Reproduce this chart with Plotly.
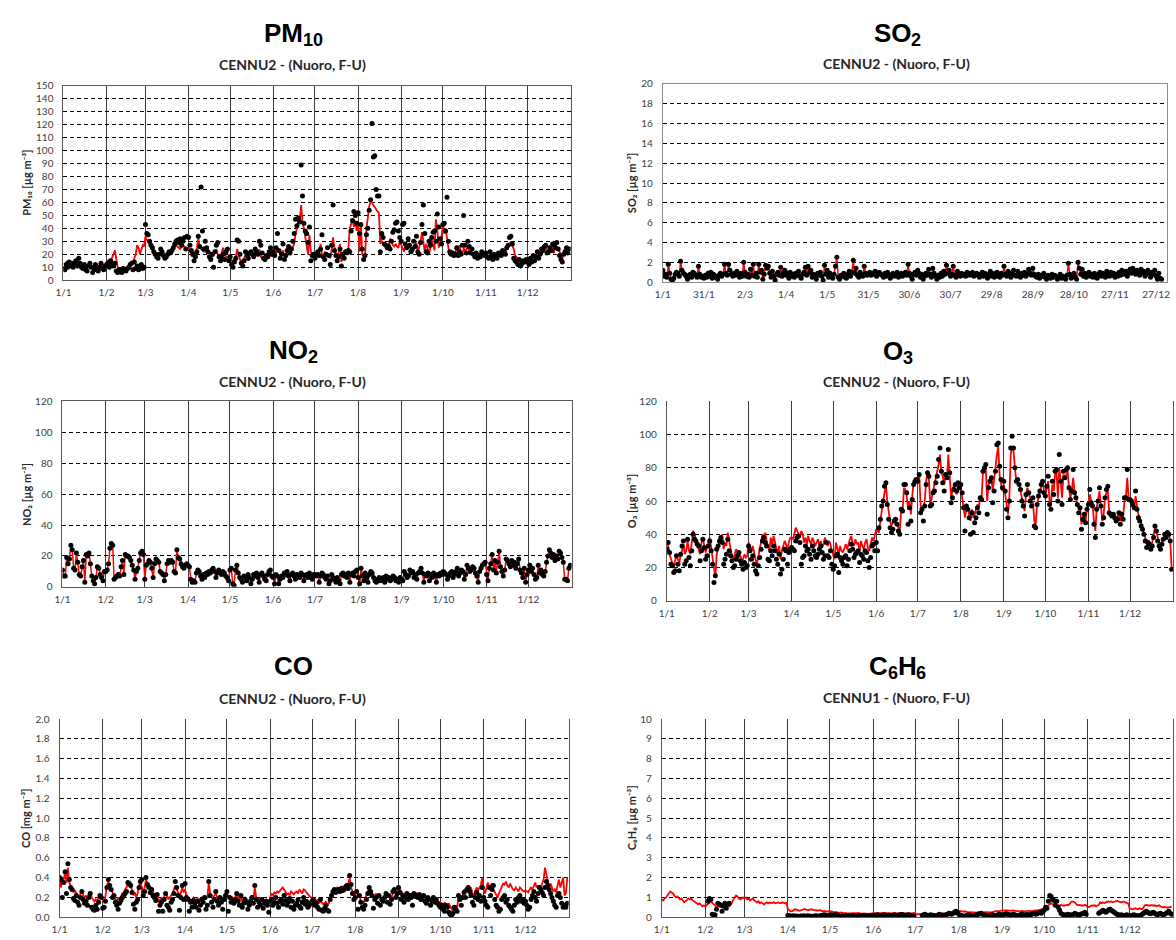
import plotly.graph_objects as go

W, H = 1176, 940

# ---------------------------------------------------------------- axes
days = list(range(365))
month_ticks = [0, 31, 59, 90, 120, 151, 181, 212, 243, 273, 304, 334]
month_labels = ["1/1", "1/2", "1/3", "1/4", "1/5", "1/6", "1/7", "1/8", "1/9", "1/10", "1/11", "1/12"]
so2_ticks = [0, 30, 60, 90, 120, 150, 180, 210, 240, 270, 300, 330, 360]
so2_labels = ["1/1", "31/1", "2/3", "1/4", "1/5", "31/5", "30/6", "30/7", "29/8", "28/9", "28/10", "27/11", "27/12"]

# ---------------------------------------------------------------- PM10 (µg/m3)
pm10_daily = [
    9, 8, 12, 10, 14, 11, 13, 10, 12, 15, 11, 17, 13, 10, 9, 12, 8, 7, 11, 13, 10, 6, 9, 12, 8, 7, 10, 13, 9, 8, 11,
    12, 13, 10, 15, 12, 11, 13, 7, 6, 8, 7, 6, 9, 8, 7, 9, 10, 12, 13, 8, 14, 9, 11, 8, 10, 12, 9, 10,
    43, 36, 35, 30, 27, 25, 22, 20, 18, 17, 20, 24, 22, 19, 17, 18, 20, 22, 21, 23, 25, 28, 30, 31, 29, 32, 27, 30, 33, 24, 34,
    33, 27, 23, 20, 15, 18, 22, 34, 26, 72, 38, 24, 30, 25, 22, 18, 16, 20, 10, 22, 27, 29, 18, 15, 17, 20, 16, 22, 24, 15,
    18, 12, 10, 14, 17, 31, 30, 20, 13, 11, 15, 22, 19, 17, 21, 22, 20, 18, 24, 22, 20, 30, 27, 21, 17, 16, 19, 18, 22, 25, 20,
    22, 19, 25, 36, 23, 17, 20, 28, 16, 19, 23, 26, 21, 24, 30, 36, 47, 42, 48, 45, 89, 65, 44, 38, 36, 29, 41, 15, 19, 20,
    17, 20, 22, 19, 24, 35, 18, 16, 20, 25, 19, 12, 27, 58, 23, 19, 15, 18, 24, 11, 20, 17, 22, 21, 23, 22, 38, 46, 53, 50, 44,
    52, 36, 43, 24, 16, 19, 35, 40, 54, 62, 121, 95, 96, 70, 65, 65, 22, 36, 33, 28, 27, 25, 26, 24, 30, 37, 39, 44, 45, 38, 33,
    30, 43, 44, 28, 25, 32, 27, 22, 24, 30, 26, 34, 22, 20, 29, 43, 58, 36, 22, 21, 30, 27, 33, 37, 38, 30, 51, 41, 32, 28,
    43, 44, 38, 64, 30, 22, 20, 21, 19, 20, 25, 19, 22, 20, 27, 50, 27, 21, 30, 26, 21, 24, 20, 18, 21, 17, 19, 18, 22, 20, 19,
    21, 18, 17, 22, 19, 16, 20, 18, 17, 21, 20, 19, 23, 22, 20, 25, 27, 33, 34, 28, 17, 15, 14, 12, 16, 11, 13, 15, 14, 16,
    15, 12, 17, 14, 19, 15, 18, 22, 17, 20, 24, 23, 26, 27, 21, 22, 25, 23, 28, 27, 25, 29, 24, 19, 16, 14, 20, 22, 25, 21, 24,
]
pm10_line = [
    13, 12, 14, 13, 15, 12, 14, 13, 16, 14, 13, 15, 12, 11, 10, 12, 11, 10, 12, 11, 10, 9, 11, 12, 10, 11, 12, 11, 10, 12, 11,
    14, 15, 16, 15, 17, 20, 23, 15, 10, 9, 8, 9, 8, 9, 8, 10, 12, 13, 14, 13, 17, 20, 27, 25, 20, 24, 27, 26,
    34, 31, 30, 27, 25, 22, 21, 20, 21, 20, 19, 20, 21, 19, 18, 19, 20, 21, 22, 23, 24, 26, 27, 26, 25, 24, 26, 27, 26, 25, 24,
    25, 22, 20, 18, 20, 22, 24, 33, 25, 24, 23, 22, 24, 21, 23, 22, 20, 18, 19, 21, 24, 20, 19, 18, 22, 25, 20, 18, 17, 19,
    17, 15, 14, 16, 18, 24, 20, 16, 15, 14, 17, 19, 18, 15, 20, 22, 21, 19, 22, 23, 20, 24, 18, 17, 16, 18, 19, 17, 18, 19, 20,
    20, 22, 21, 23, 22, 20, 21, 23, 19, 18, 22, 21, 20, 23, 25, 28, 36, 40, 47, 45, 58, 45, 40, 34, 28, 20, 35, 22, 20, 18,
    20, 19, 20, 21, 28, 20, 18, 22, 20, 19, 18, 17, 24, 33, 25, 20, 16, 22, 28, 14, 20, 21, 23, 22, 24, 40, 44, 47, 41, 46, 38,
    44, 22, 44, 20, 18, 19, 40, 48, 57, 61, 60, 58, 56, 55, 53, 52, 28, 30, 28, 27, 26, 25, 27, 32, 30, 27, 26, 28, 26, 25, 30,
    28, 25, 22, 26, 24, 28, 26, 23, 21, 24, 27, 29, 23, 25, 30, 37, 30, 22, 28, 25, 20, 26, 31, 27, 23, 47, 39, 25, 29, 33,
    43, 36, 40, 30, 25, 22, 20, 21, 20, 22, 24, 21, 27, 20, 19, 25, 22, 24, 26, 22, 21, 20, 19, 18, 20, 19, 18, 17, 19, 20, 21,
    20, 19, 18, 19, 18, 17, 19, 18, 19, 20, 22, 21, 20, 23, 22, 24, 26, 28, 30, 27, 24, 19, 18, 16, 15, 14, 13, 15, 14, 16,
    14, 13, 15, 16, 15, 18, 20, 17, 19, 21, 20, 22, 23, 25, 22, 20, 24, 26, 22, 21, 28, 25, 23, 22, 19, 17, 21, 24, 22, 20, 21,
]

# ---------------------------------------------------------------- SO2 (µg/m3)
so2_daily = [
    1.2, 0.6, 0.8, 0.5, 1.8, 0.9, 0.3, 0.2, 0.4, 0.8, 1.0, 0.9, 0.6, 2.1, 1.2, 0.9, 0.8, 0.6, 0.3, 0.7, 0.8, 0.5, 1.0, 0.9, 0.7, 0.5, 1.6, 0.8, 0.5, 0.6, 0.4,
    0.7, 0.5, 0.9, 0.6, 1.0, 0.4, 0.8, 0.5, 0.6, 0.3, 0.7, 0.9, 0.6, 0.8, 1.8, 0.9, 0.7, 1.8, 1.2, 0.8, 0.6, 0.9, 0.7, 1.1, 0.8, 0.5, 0.9, 0.6,
    2.0, 1.0, 0.6, 0.8, 0.5, 1.3, 0.7, 1.8, 0.6, 0.9, 0.5, 1.8, 1.0, 1.2, 0.3, 0.8, 1.7, 1.4, 1.6, 0.9, 0.5, 1.1, 0.6, 0.2, 0.8, 1.0, 0.7, 1.5, 0.6, 0.9, 1.2,
    0.7, 0.9, 0.4, 1.0, 0.6, 0.8, 0.5, 0.9, 0.7, 1.1, 0.6, 0.4, 0.8, 1.0, 1.5, 0.7, 1.6, 0.9, 1.2, 0.5, 0.8, 0.6, 0.3, 0.9, 0.7, 1.0, 0.6, 0.2, 1.7, 0.8,
    1.2, 0.5, 0.9, 0.6, 0.4, 0.8, 1.6, 2.5, 0.5, 0.3, 0.7, 0.6, 0.9, 0.5, 0.4, 0.8, 1.1, 0.6, 1.0, 2.2, 0.9, 1.4, 0.7, 0.5, 1.0, 0.8, 0.6, 1.6, 0.9, 0.7, 0.8,
    1.0, 0.7, 0.9, 0.8, 1.1, 0.6, 0.9, 1.0, 0.8, 0.7, 0.5, 0.9, 0.6, 1.0, 0.8, 0.4, 0.7, 0.9, 0.6, 0.8, 1.0, 0.5, 0.7, 0.9, 0.6, 0.8, 1.0, 0.7, 1.8, 0.9,
    0.6, 0.3, 0.8, 1.0, 0.7, 1.2, 0.9, 0.5, 0.8, 0.3, 0.6, 0.9, 0.7, 1.3, 0.8, 0.5, 1.4, 0.9, 0.6, 0.3, 0.7, 0.5, 0.9, 0.6, 1.1, 0.8, 1.7, 0.9, 1.2, 0.6, 0.8,
    1.6, 0.7, 0.5, 1.1, 0.8, 0.6, 0.9, 0.7, 0.8, 0.6, 1.0, 0.9, 0.7, 0.8, 1.0, 0.6, 0.8, 0.9, 0.7, 0.5, 0.8, 1.0, 0.6, 0.9, 0.7, 0.4, 0.8, 1.1, 0.6, 0.9, 0.5,
    0.8, 1.0, 0.6, 0.5, 0.9, 0.7, 1.6, 0.8, 0.6, 1.1, 0.9, 0.5, 0.8, 1.2, 0.7, 0.6, 1.1, 0.8, 0.5, 0.9, 0.7, 1.0, 0.6, 0.8, 1.3, 0.9, 0.7, 1.4, 0.8, 0.6,
    0.5, 0.8, 0.4, 0.7, 0.6, 0.9, 0.5, 0.3, 0.7, 0.6, 0.4, 0.8, 0.5, 0.7, 0.6, 0.3, 0.5, 0.8, 0.4, 0.6, 0.5, 0.3, 0.7, 1.9, 0.8, 0.4, 0.6, 0.9, 0.5, 0.3, 2.0,
    1.4, 0.8, 1.3, 0.6, 0.9, 0.5, 0.7, 1.0, 0.6, 0.8, 0.5, 0.9, 0.7, 0.4, 0.8, 1.0, 0.6, 0.9, 0.7, 0.5, 1.1, 0.8, 0.6, 1.0, 0.7, 0.9, 0.5, 0.8, 0.6, 1.0,
    0.7, 1.2, 0.8, 0.9, 1.1, 0.6, 1.0, 1.3, 0.9, 1.4, 1.1, 0.8, 1.2, 1.0, 0.7, 1.3, 0.9, 1.1, 0.6, 0.8, 1.2, 0.9, 0.5, 1.0, 0.8, 1.2, 0.6, 0.3, 0.9, 0.4, 0.3,
]

# ---------------------------------------------------------------- NO2 (µg/m3)
no2_daily = [
    11, 7, 7, 19, 15, 18, 27, 24, 12, 11, 22, 16, 8, 7, 13, 17, 3, 21, 20, 22, 15, 7, 4, 2, 6, 13, 12, 8, 6, 4, 10,
    10, 11, 15, 25, 28, 27, 5, 6, 7, 8, 7, 13, 17, 8, 21, 20, 20, 19, 17, 14, 11, 5, 10, 12, 17, 22, 23, 21,
    5, 14, 15, 17, 16, 12, 6, 15, 18, 17, 16, 10, 9, 8, 4, 8, 15, 17, 16, 17, 16, 10, 9, 24, 19, 18, 15, 13, 12, 14, 15,
    14, 13, 5, 3, 4, 3, 9, 11, 10, 7, 5, 8, 6, 9, 8, 10, 9, 11, 12, 10, 6, 9, 11, 9, 8, 10, 9, 7, 6, 4,
    11, 12, 2, 1, 11, 14, 9, 6, 5, 3, 7, 6, 4, 8, 6, 2, 5, 8, 7, 9, 6, 3, 8, 9, 7, 5, 4, 8, 10, 11, 7,
    6, 2, 8, 7, 2, 5, 7, 6, 9, 8, 10, 7, 4, 8, 9, 7, 5, 8, 7, 6, 9, 8, 4, 7, 8, 6, 9, 7, 5, 8,
    8, 7, 8, 3, 7, 9, 8, 6, 5, 7, 2, 4, 8, 6, 5, 3, 6, 4, 2, 8, 9, 7, 8, 6, 9, 3, 8, 9, 7, 10, 11,
    6, 2, 12, 7, 4, 9, 6, 3, 8, 10, 9, 6, 4, 3, 5, 6, 4, 5, 6, 3, 7, 5, 6, 4, 5, 7, 6, 4, 5, 3, 6,
    5, 4, 10, 8, 6, 7, 11, 9, 10, 6, 8, 5, 9, 10, 12, 9, 3, 8, 7, 9, 4, 8, 6, 9, 7, 3, 8, 7, 9, 8,
    10, 9, 8, 5, 7, 9, 10, 6, 8, 10, 12, 7, 9, 11, 10, 5, 8, 14, 12, 10, 11, 13, 12, 9, 7, 3, 10, 12, 14, 15, 16,
    8, 4, 12, 15, 21, 11, 17, 9, 16, 23, 13, 10, 7, 11, 18, 17, 15, 13, 17, 14, 16, 12, 15, 18, 11, 9, 6, 12, 3, 8,
    11, 14, 10, 12, 8, 5, 6, 14, 9, 11, 8, 7, 10, 16, 20, 24, 22, 19, 21, 17, 20, 18, 23, 22, 19, 16, 5, 5, 4, 12, 14,
]

# ---------------------------------------------------------------- O3 (µg/m3)
o3_daily = [
    31, 35, 29, 22, 21, 17, 18, 27, 22, 18, 28, 33, 36, 22, 24, 37, 26, 21, 30, 40, 37, 36, 34, 33, 24, 30, 37, 32, 25, 27, 33,
    36, 30, 22, 11, 15, 31, 33, 36, 38, 35, 22, 25, 28, 37, 30, 27, 24, 20, 21, 25, 27, 29, 24, 22, 19, 23, 20, 21,
    33, 30, 25, 27, 22, 18, 16, 21, 26, 31, 36, 38, 35, 33, 25, 24, 30, 27, 33, 30, 25, 22, 28, 16, 19, 25, 31, 30, 22, 29, 31,
    32, 31, 30, 36, 38, 39, 35, 22, 26, 27, 33, 30, 31, 28, 25, 33, 30, 27, 26, 28, 31, 33, 29, 25, 27, 35, 27, 26, 30, 22,
    19, 21, 27, 28, 17, 26, 24, 22, 26, 27, 21, 25, 30, 34, 31, 26, 28, 29, 30, 23, 28, 27, 25, 30, 29, 24, 20, 26, 33, 34, 30,
    35, 30, 44, 49, 57, 60, 69, 71, 58, 49, 44, 41, 43, 48, 49, 46, 42, 40, 55, 54, 70, 70, 65, 46, 56, 48, 61, 70, 72, 73,
    72, 76, 53, 55, 48, 57, 70, 77, 75, 57, 58, 65, 66, 71, 75, 85, 92, 78, 71, 66, 76, 74, 91, 77, 59, 62, 67, 70, 66, 71, 68,
    70, 65, 56, 42, 57, 55, 50, 40, 53, 41, 47, 50, 56, 53, 62, 61, 78, 80, 82, 52, 68, 72, 74, 59, 66, 78, 94, 95, 81, 73, 68,
    72, 66, 55, 50, 60, 92, 99, 92, 80, 72, 73, 70, 67, 60, 57, 51, 64, 70, 65, 60, 57, 62, 45, 44, 58, 63, 66, 70, 72, 65,
    63, 69, 75, 58, 55, 72, 64, 78, 79, 60, 88, 72, 58, 78, 74, 79, 80, 68, 61, 66, 79, 65, 62, 58, 53, 56, 43, 49, 52, 47, 55,
    58, 67, 59, 57, 46, 38, 55, 60, 68, 57, 46, 50, 62, 67, 69, 53, 52, 51, 52, 50, 48, 49, 53, 46, 52, 49, 62, 62, 79, 61,
    61, 60, 58, 56, 66, 55, 50, 48, 45, 43, 40, 36, 32, 35, 34, 31, 33, 38, 45, 42, 36, 33, 31, 34, 37, 40, 38, 41, 40, 36, 19,
]
o3_line = [
    35, 33, 28, 25, 22, 20, 24, 27, 25, 22, 28, 30, 34, 28, 30, 36, 30, 28, 35, 42, 40, 37, 34, 31, 28, 35, 38, 33, 29, 32, 36,
    38, 32, 25, 18, 14, 28, 33, 36, 38, 40, 31, 35, 33, 41, 36, 30, 27, 25, 28, 31, 29, 30, 27, 24, 25, 28, 26, 27,
    35, 32, 30, 33, 28, 25, 22, 27, 30, 35, 40, 38, 41, 36, 32, 30, 38, 34, 39, 35, 30, 28, 33, 25, 30, 33, 36, 34, 30, 35, 38,
    38, 37, 40, 44, 42, 40, 38, 42, 40, 35, 38, 34, 39, 36, 34, 38, 36, 33, 35, 37, 33, 36, 32, 34, 38, 35, 33, 36, 34, 30,
    28, 25, 35, 32, 28, 33, 30, 29, 32, 34, 31, 35, 37, 39, 34, 33, 37, 34, 35, 30, 36, 33, 31, 35, 37, 32, 30, 34, 38, 36, 40,
    43, 42, 41, 48, 55, 60, 65, 70, 60, 52, 48, 45, 47, 50, 48, 46, 44, 42, 55, 53, 68, 67, 63, 55, 60, 52, 63, 72, 74, 71,
    73, 76, 58, 53, 56, 60, 72, 77, 73, 58, 62, 66, 68, 72, 78, 82, 88, 77, 75, 70, 75, 73, 88, 72, 62, 66, 70, 67, 64, 70, 67,
    68, 62, 56, 50, 55, 57, 52, 48, 55, 50, 52, 55, 58, 56, 63, 62, 78, 80, 80, 60, 70, 72, 75, 66, 72, 80, 88, 93, 75, 70, 66,
    70, 64, 56, 52, 62, 88, 93, 90, 80, 72, 72, 70, 66, 62, 58, 54, 64, 68, 65, 62, 58, 60, 48, 46, 58, 62, 66, 70, 72, 66,
    64, 68, 72, 60, 58, 70, 66, 76, 78, 62, 80, 72, 62, 76, 74, 76, 78, 68, 62, 66, 74, 66, 62, 58, 55, 56, 46, 50, 52, 48, 55,
    58, 64, 60, 58, 48, 42, 56, 60, 66, 58, 48, 52, 62, 65, 66, 54, 52, 52, 51, 50, 49, 50, 54, 48, 52, 50, 60, 62, 74, 62,
    60, 60, 58, 56, 63, 56, 52, 50, 47, 45, 42, 38, 34, 36, 35, 33, 35, 39, 44, 42, 37, 34, 33, 35, 38, 40, 38, 40, 40, 36, 20,
]

# ---------------------------------------------------------------- CO (mg/m3)
co_daily = [
    0.40, 0.38, 0.20, 0.35, 0.46, 0.24, 0.54, 0.38, 0.30, 0.28, 0.19, 0.17, 0.22, 0.15, 0.12, 0.20, 0.26, 0.18, 0.14, 0.16, 0.12, 0.20, 0.24, 0.10, 0.08, 0.07, 0.12, 0.08, 0.15, 0.22, 0.20,
    0.09, 0.10, 0.16, 0.30, 0.38, 0.32, 0.28, 0.20, 0.22, 0.15, 0.12, 0.08, 0.14, 0.17, 0.20, 0.22, 0.24, 0.26, 0.35, 0.34, 0.32, 0.25, 0.13, 0.08, 0.15, 0.18, 0.30, 0.36,
    0.38, 0.22, 0.26, 0.40, 0.33, 0.30, 0.25, 0.28, 0.22, 0.20, 0.17, 0.23, 0.06, 0.12, 0.15, 0.06, 0.18, 0.24, 0.12, 0.10, 0.07, 0.15, 0.18, 0.24, 0.36, 0.30, 0.22, 0.07, 0.20, 0.32, 0.18,
    0.34, 0.20, 0.18, 0.06, 0.15, 0.10, 0.17, 0.14, 0.10, 0.16, 0.07, 0.12, 0.18, 0.15, 0.20, 0.08, 0.12, 0.36, 0.22, 0.15, 0.10, 0.18, 0.26, 0.16, 0.12, 0.20, 0.15, 0.08, 0.18, 0.22,
    0.26, 0.06, 0.20, 0.15, 0.17, 0.14, 0.18, 0.24, 0.16, 0.12, 0.22, 0.10, 0.14, 0.18, 0.15, 0.08, 0.12, 0.16, 0.20, 0.14, 0.32, 0.18, 0.10, 0.15, 0.12, 0.18, 0.09, 0.14, 0.16, 0.12, 0.05,
    0.16, 0.18, 0.12, 0.15, 0.20, 0.14, 0.10, 0.16, 0.18, 0.13, 0.22, 0.17, 0.12, 0.15, 0.19, 0.10, 0.16, 0.08, 0.12, 0.14, 0.18, 0.11, 0.09, 0.15, 0.20, 0.13, 0.16, 0.10, 0.12, 0.14,
    0.16, 0.18, 0.12, 0.14, 0.10, 0.08, 0.18, 0.07, 0.06, 0.09, 0.12, 0.07, 0.06, 0.18, 0.22, 0.26, 0.28, 0.25, 0.27, 0.28, 0.26, 0.29, 0.27, 0.28, 0.30, 0.32, 0.29, 0.42, 0.33, 0.24, 0.18,
    0.20, 0.26, 0.08, 0.22, 0.15, 0.10, 0.08, 0.12, 0.18, 0.24, 0.30, 0.26, 0.22, 0.09, 0.18, 0.20, 0.14, 0.22, 0.12, 0.18, 0.16, 0.20, 0.24, 0.15, 0.22, 0.13, 0.18, 0.26, 0.28, 0.20, 0.24,
    0.30, 0.25, 0.18, 0.22, 0.15, 0.20, 0.24, 0.18, 0.22, 0.20, 0.12, 0.24, 0.21, 0.22, 0.20, 0.23, 0.18, 0.20, 0.22, 0.16, 0.14, 0.20, 0.18, 0.12, 0.16, 0.20, 0.15, 0.18, 0.14, 0.12,
    0.10, 0.12, 0.08, 0.06, 0.12, 0.10, 0.05, 0.03, 0.02, 0.04, 0.10, 0.08, 0.06, 0.22, 0.18, 0.12, 0.20, 0.25, 0.20, 0.28, 0.30, 0.26, 0.22, 0.15, 0.12, 0.20, 0.25, 0.18, 0.22, 0.16, 0.30,
    0.20, 0.16, 0.12, 0.10, 0.30, 0.22, 0.28, 0.32, 0.18, 0.12, 0.10, 0.06, 0.08, 0.18, 0.20, 0.22, 0.15, 0.18, 0.12, 0.10, 0.08, 0.06, 0.12, 0.18, 0.15, 0.20, 0.22, 0.16, 0.18, 0.14,
    0.16, 0.12, 0.08, 0.10, 0.18, 0.22, 0.26, 0.20, 0.16, 0.24, 0.30, 0.28, 0.25, 0.22, 0.30, 0.36, 0.32, 0.28, 0.24, 0.20, 0.16, 0.12, 0.10, 0.22, 0.24, 0.20, 0.14, 0.10, 0.12, 0.10, 0.14,
]
co_line = [
    0.38, 0.30, 0.40, 0.38, 0.45, 0.35, 0.50, 0.35, 0.32, 0.28, 0.25, 0.27, 0.24, 0.22, 0.20, 0.23, 0.27, 0.22, 0.20, 0.22, 0.18, 0.24, 0.26, 0.20, 0.18, 0.16, 0.18, 0.16, 0.20, 0.22, 0.20,
    0.18, 0.15, 0.22, 0.32, 0.36, 0.30, 0.28, 0.24, 0.22, 0.18, 0.16, 0.20, 0.18, 0.20, 0.24, 0.25, 0.28, 0.30, 0.34, 0.32, 0.30, 0.28, 0.22, 0.25, 0.20, 0.24, 0.32, 0.35,
    0.30, 0.25, 0.30, 0.38, 0.34, 0.30, 0.28, 0.30, 0.25, 0.22, 0.20, 0.24, 0.15, 0.18, 0.20, 0.15, 0.20, 0.25, 0.22, 0.18, 0.20, 0.22, 0.24, 0.28, 0.32, 0.28, 0.25, 0.20, 0.24, 0.30, 0.25,
    0.28, 0.22, 0.20, 0.16, 0.18, 0.17, 0.20, 0.18, 0.16, 0.20, 0.14, 0.18, 0.20, 0.19, 0.22, 0.18, 0.20, 0.35, 0.24, 0.20, 0.18, 0.22, 0.24, 0.20, 0.18, 0.22, 0.20, 0.16, 0.22, 0.24,
    0.25, 0.20, 0.22, 0.18, 0.20, 0.17, 0.20, 0.24, 0.19, 0.16, 0.22, 0.16, 0.18, 0.20, 0.18, 0.15, 0.17, 0.19, 0.22, 0.18, 0.30, 0.20, 0.16, 0.18, 0.16, 0.19, 0.14, 0.17, 0.18, 0.15, 0.14,
    0.20, 0.24, 0.22, 0.25, 0.24, 0.26, 0.25, 0.27, 0.28, 0.30, 0.28, 0.26, 0.23, 0.24, 0.22, 0.26, 0.24, 0.23, 0.25, 0.26, 0.24, 0.28, 0.26, 0.24, 0.28, 0.27, 0.25, 0.23, 0.22, 0.20,
    0.20, 0.18, 0.17, 0.16, 0.18, 0.14, 0.16, 0.15, 0.13, 0.14, 0.16, 0.12, 0.14, 0.20, 0.25, 0.28, 0.29, 0.28, 0.30, 0.29, 0.30, 0.31, 0.30, 0.32, 0.33, 0.32, 0.34, 0.40, 0.30, 0.26, 0.22,
    0.24, 0.26, 0.20, 0.22, 0.16, 0.14, 0.15, 0.18, 0.22, 0.26, 0.30, 0.26, 0.24, 0.20, 0.22, 0.24, 0.20, 0.22, 0.20, 0.20, 0.18, 0.22, 0.24, 0.20, 0.22, 0.18, 0.20, 0.24, 0.28, 0.25, 0.24,
    0.30, 0.28, 0.26, 0.25, 0.22, 0.20, 0.23, 0.21, 0.22, 0.24, 0.20, 0.22, 0.23, 0.24, 0.21, 0.22, 0.20, 0.21, 0.22, 0.20, 0.18, 0.20, 0.19, 0.16, 0.18, 0.20, 0.18, 0.19, 0.17, 0.15,
    0.15, 0.14, 0.12, 0.15, 0.12, 0.10, 0.14, 0.11, 0.08, 0.06, 0.10, 0.12, 0.08, 0.22, 0.16, 0.18, 0.22, 0.28, 0.25, 0.30, 0.32, 0.28, 0.30, 0.24, 0.22, 0.26, 0.30, 0.27, 0.30, 0.32, 0.40,
    0.28, 0.24, 0.30, 0.35, 0.30, 0.32, 0.34, 0.28, 0.25, 0.22, 0.20, 0.24, 0.28, 0.30, 0.34, 0.33, 0.36, 0.32, 0.30, 0.34, 0.30, 0.28, 0.27, 0.30, 0.28, 0.26, 0.30, 0.28, 0.27, 0.26,
    0.27, 0.26, 0.25, 0.28, 0.30, 0.28, 0.32, 0.35, 0.30, 0.32, 0.28, 0.30, 0.34, 0.38, 0.50, 0.42, 0.38, 0.30, 0.34, 0.30, 0.26, 0.28, 0.25, 0.32, 0.38, 0.30, 0.36, 0.40, 0.22, 0.24, 0.40,
]

# ---------------------------------------------------------------- C6H6 (µg/m3), None = no measurement
n = None
c6h6_daily = [
    n, n, n, n, n, n, n, n, n, n, n, n, n, n, n, n, n, n, n, n, n, n, n, n, n, n, n, n, n, n, n,
    n, n, 0.8, 0.95, 0.9, 0.15, 0.1, 0.12, 0.4, 0.7, 0.65, 0.6, 0.3, 0.55, 0.7, 0.45, 0.65, 0.7, n, n, n, n, n, n, n, n, n, n,
    n, n, n, n, n, n, n, n, n, n, n, n, n, n, n, n, n, n, n, n, n, n, n, n, n, n, n, n, n, n, n,
    0.1, 0.08, 0.06, 0.05, 0.07, 0.05, 0.06, 0.05, 0.04, 0.06, 0.05, 0.08, 0.06, 0.05, 0.07, 0.05, 0.06, 0.04, 0.05, 0.06, 0.08, 0.06, 0.05, 0.07, 0.08, 0.1, 0.12, 0.1, 0.08, 0.06,
    0.1, 0.12, 0.08, 0.1, 0.14, 0.12, 0.08, 0.06, 0.05, 0.07, 0.06, 0.05, 0.08, 0.06, 0.05, 0.07, 0.06, 0.08, 0.05, 0.04, 0.06, 0.05, 0.07, 0.06, 0.08, 0.06, 0.05, 0.07, 0.06, 0.05, 0.08,
    0.1, 0.08, 0.1, 0.12, 0.08, 0.06, 0.08, 0.1, 0.12, 0.1, 0.08, 0.1, 0.09, 0.07, 0.1, 0.12, 0.1, 0.08, 0.1, 0.12, 0.14, 0.12, 0.1, 0.08, 0.1, 0.12, 0.1, 0.08, 0.06, 0.05,
    n, n, n, n, n, 0.1, 0.12, 0.15, 0.1, 0.08, 0.1, 0.12, 0.1, 0.08, 0.06, 0.08, 0.1, 0.15, 0.12, 0.1, 0.08, 0.1, 0.12, 0.15, 0.2, 0.18, 0.15, 0.2, 0.25, 0.3, 0.22,
    0.15, 0.1, 0.08, 0.06, 0.05, 0.08, 0.1, 0.12, 0.1, 0.08, 0.06, 0.08, 0.1, 0.12, 0.15, 0.18, 0.2, 0.15, 0.12, 0.1, 0.08, 0.06, 0.08, 0.1, 0.12, 0.1, 0.08, 0.1, 0.12, 0.15, 0.12,
    0.1, 0.12, 0.15, 0.18, 0.15, 0.12, 0.1, 0.12, 0.15, 0.12, 0.1, 0.08, 0.1, 0.12, 0.15, 0.12, 0.1, 0.12, 0.14, 0.12, 0.1, 0.15, 0.18, 0.2, 0.15, 0.18, 0.22, 0.25, 0.2, 0.3,
    0.35, 0.5, 0.45, 0.8, 1.1, 1.05, 0.9, 0.85, 0.6, 0.8, 0.5, 0.35, 0.2, 0.15, 0.12, 0.1, 0.12, 0.15, 0.12, 0.1, 0.12, 0.15, 0.2, 0.15, 0.12, 0.1, 0.15, 0.18, 0.2, 0.25, 0.15,
    n, n, n, n, n, n, n, n, 0.2, 0.25, 0.3, 0.35, 0.3, 0.25, 0.3, 0.38, 0.4, 0.35, 0.3, 0.25, 0.2, 0.15, 0.12, 0.1, 0.12, 0.1, 0.08, 0.1, 0.12, 0.1,
    0.1, 0.08, 0.1, 0.12, 0.1, 0.08, 0.06, 0.08, 0.1, 0.15, 0.2, 0.25, 0.3, 0.25, 0.2, 0.18, 0.22, 0.25, 0.2, 0.15, 0.12, 0.18, 0.2, 0.15, 0.12, 0.15, 0.2, 0.25, 0.3, 0.2, 0.15,
]
c6h6_line = [
    0.9, 0.85, 0.95, 1.0, 1.1, 1.2, 1.3, 1.25, 1.2, 1.1, 1.0, 1.05, 0.95, 0.9, 0.95, 0.85, 0.75, 0.8, 0.9, 0.95, 0.9, 0.95, 0.85, 0.8, 0.75, 0.7, 0.65, 0.7, 0.6, 0.55, 0.6,
    0.55, 0.6, 0.7, 0.75, 0.8, 0.7, 0.65, 0.6, 0.5, 0.55, 0.6, 0.7, 0.65, 0.6, 0.65, 0.7, 0.6, 0.55, 0.6, 0.75, 0.85, 1.0, 1.1, 1.05, 0.95, 0.9, 0.95, 1.0,
    0.95, 1.0, 0.9, 0.95, 0.85, 0.9, 0.95, 0.85, 0.8, 0.75, 0.8, 0.7, 0.75, 0.7, 0.65, 0.7, 0.75, 0.7, 0.75, 0.7, 0.72, 0.75, 0.7, 0.72, 0.75, 0.72, 0.7, 0.75, 0.72, 0.7, 0.72,
    0.4, 0.35, 0.3, 0.3, 0.35, 0.4, 0.38, 0.35, 0.33, 0.35, 0.38, 0.4, 0.42, 0.38, 0.35, 0.36, 0.38, 0.4, 0.37, 0.35, 0.36, 0.34, 0.35, 0.36, 0.33, 0.3, 0.32, 0.3, 0.28, 0.3,
    0.28, 0.3, 0.27, 0.25, 0.27, 0.25, 0.24, 0.22, 0.24, 0.22, 0.2, 0.22, 0.2, 0.18, 0.2, 0.18, 0.2, 0.19, 0.18, 0.2, 0.22, 0.2, 0.18, 0.17, 0.19, 0.2, 0.18, 0.17, 0.18, 0.19, 0.2,
    0.2, 0.22, 0.21, 0.2, 0.19, 0.2, 0.22, 0.2, 0.18, 0.19, 0.2, 0.21, 0.2, 0.19, 0.2, 0.22, 0.2, 0.19, 0.18, 0.2, 0.21, 0.2, 0.22, 0.2, 0.19, 0.2, 0.18, 0.19, 0.2, 0.22,
    0.15, 0.14, 0.15, 0.16, 0.15, 0.14, 0.15, 0.16, 0.17, 0.15, 0.16, 0.15, 0.17, 0.18, 0.16, 0.15, 0.17, 0.18, 0.16, 0.18, 0.2, 0.18, 0.2, 0.22, 0.2, 0.22, 0.24, 0.25, 0.26, 0.28, 0.3,
    0.3, 0.32, 0.3, 0.28, 0.3, 0.28, 0.27, 0.25, 0.26, 0.25, 0.24, 0.25, 0.24, 0.23, 0.25, 0.24, 0.23, 0.22, 0.24, 0.25, 0.24, 0.26, 0.25, 0.24, 0.26, 0.28, 0.3, 0.32, 0.3, 0.32, 0.34,
    0.35, 0.34, 0.33, 0.34, 0.35, 0.33, 0.32, 0.34, 0.33, 0.32, 0.3, 0.32, 0.31, 0.3, 0.32, 0.3, 0.29, 0.3, 0.32, 0.33, 0.3, 0.32, 0.34, 0.33, 0.35, 0.34, 0.36, 0.38, 0.4, 0.42,
    0.4, 0.45, 0.5, 0.6, 0.65, 0.7, 0.65, 0.6, 0.62, 0.6, 0.58, 0.6, 0.62, 0.6, 0.58, 0.6, 0.62, 0.6, 0.65, 0.75, 0.8, 0.78, 0.75, 0.65, 0.6, 0.62, 0.6, 0.58, 0.6, 0.62, 0.6,
    0.5, 0.52, 0.55, 0.6, 0.58, 0.6, 0.55, 0.6, 0.62, 0.75, 0.7, 0.75, 0.72, 0.75, 0.78, 0.8, 0.78, 0.8, 0.75, 0.78, 0.8, 0.82, 0.8, 0.78, 0.75, 0.78, 0.8, 0.75, 0.72, 0.7,
    0.45, 0.42, 0.4, 0.42, 0.45, 0.42, 0.4, 0.45, 0.42, 0.4, 0.5, 0.6, 0.62, 0.6, 0.58, 0.6, 0.62, 0.58, 0.6, 0.55, 0.58, 0.6, 0.55, 0.52, 0.5, 0.52, 0.5, 0.48, 0.5, 0.52, 0.5,
]

for name, arr in [("pm10_daily", pm10_daily), ("pm10_line", pm10_line), ("so2_daily", so2_daily),
                  ("no2_daily", no2_daily), ("o3_daily", o3_daily), ("o3_line", o3_line),
                  ("co_daily", co_daily), ("co_line", co_line), ("c6h6_daily", c6h6_daily),
                  ("c6h6_line", c6h6_line)]:
    assert len(arr) == 365, (name, len(arr))

# ---------------------------------------------------------------- styling
RED = "#FF0000"
TICK_FONT = dict(family="Lato, 'Open Sans', sans-serif", size=10, color="#404040")
AXIS_LINE = "#595959"
MONTH_LINE = "#3c3c3c"
TITLE_FAMILY = "Liberation Sans, Arial, sans-serif"
TITLE_SIZE = 26
SUB_SIZE = 18
# Arial/Liberation Sans Bold advance widths (em) for the title glyphs
GLYPH_EM = {"P": 0.667, "M": 0.833, "S": 0.667, "O": 0.778, "N": 0.722, "C": 0.722,
            "H": 0.722, "0": 0.556, "1": 0.556, "2": 0.556, "3": 0.556, "6": 0.556}

fig = go.Figure()
annotations = []


def px_x(x):
    return x / W


def px_y(y):
    return 1 - y / H


def chem_title(parts, cx, baseline):
    """Bold formula title; parts are (text, is_subscript) pairs laid out left to right."""
    widths = [sum(GLYPH_EM[c] for c in t) * (SUB_SIZE if sub else TITLE_SIZE) for t, sub in parts]
    x = cx - sum(widths) / 2
    for (t, sub), w in zip(parts, widths):
        size = SUB_SIZE if sub else TITLE_SIZE
        base = baseline + (4.5 if sub else 0)
        # middle of the glyph box sits ~0.35 em above the baseline
        mid = base - 0.3465 * size
        annotations.append(dict(
            text=f"<b>{t}</b>", x=px_x(x), y=px_y(mid), xref="paper", yref="paper",
            xanchor="left", yanchor="middle", showarrow=False, borderpad=0,
            font=dict(family=TITLE_FAMILY, size=size, color="#000000"),
        ))
        x += w


def add_panel(k, box, ymax, dtick, yfmt, xticks, xlabels, xmax, month_grid, box_top,
              subtitle, ytitle, cx, sub_y, ytitle_x, line_color=AXIS_LINE):
    left, right, top, bottom = box
    xa = "xaxis" if k == 1 else f"xaxis{k}"
    ya = "yaxis" if k == 1 else f"yaxis{k}"
    fig.layout[xa] = dict(
        domain=[px_x(left), px_x(right)], anchor=f"y{k}" if k > 1 else "y",
        range=[0, xmax], tickmode="array", tickvals=xticks, ticktext=xlabels,
        showgrid=month_grid, gridcolor=MONTH_LINE, gridwidth=1,
        showline=True, linecolor=line_color, linewidth=1, mirror=box_top,
        ticks="", tickfont=TICK_FONT, ticklabelstandoff=3, zeroline=False,
        tickangle=0, fixedrange=True,
    )
    fig.layout[ya] = dict(
        domain=[px_y(bottom), px_y(top)], anchor=f"x{k}" if k > 1 else "x",
        range=[0, ymax], dtick=dtick, tick0=0, tickformat=yfmt,
        showgrid=True, gridcolor="#000000", gridwidth=1, griddash="4px,3px",
        showline=True, linecolor=line_color, linewidth=1, mirror=True,
        ticks="", tickfont=TICK_FONT, ticklabelstandoff=7, zeroline=False,
        fixedrange=True,
    )
    annotations.append(dict(
        text=f"<b>{subtitle}</b>", x=px_x(cx), y=px_y(sub_y), xref="paper", yref="paper",
        xanchor="center", yanchor="middle", showarrow=False,
        font=dict(family="Lato, 'Open Sans', sans-serif", size=14, color="#262626"),
    ))
    annotations.append(dict(
        text=f"<b>{ytitle}</b>", x=px_x(ytitle_x), y=px_y((top + bottom) / 2), xref="paper",
        yref="paper", xanchor="center", yanchor="middle", showarrow=False, textangle=-90,
        font=dict(family="Lato, 'Open Sans', sans-serif", size=11, color="#262626"),
    ))


def ax_ids(k):
    return ("x", "y") if k == 1 else (f"x{k}", f"y{k}")


def add_line(k, values):
    xa, ya = ax_ids(k)
    fig.add_trace(go.Scatter(x=days, y=values, mode="lines", xaxis=xa, yaxis=ya,
                             line=dict(color=RED, width=1.8), hoverinfo="skip"))


def add_dots(k, values):
    xa, ya = ax_ids(k)
    fig.add_trace(go.Scatter(x=days, y=values, mode="markers", xaxis=xa, yaxis=ya,
                             marker=dict(color="#000000", size=5, line=dict(width=0)),
                             hoverinfo="skip"))


def add_linked(k, values):
    xa, ya = ax_ids(k)
    fig.add_trace(go.Scatter(x=days, y=values, mode="lines+markers", xaxis=xa, yaxis=ya,
                             line=dict(color=RED, width=1.5),
                             marker=dict(color="#000000", size=5, line=dict(width=0)),
                             hoverinfo="skip"))


SUB = "CENNU2 - (Nuoro, F-U)"
UNIT = "[µg m⁻³]"

# PM10
add_panel(1, (56, 568, 80, 277), 150, 10, "d", month_ticks, month_labels, 365, True, True,
          SUB, f"PM₁₀ {UNIT}", 287, 58, 18)
chem_title([("PM", False), ("10", True)], 287, 35)
add_line(1, pm10_line)
add_dots(1, pm10_daily)

# SO2
add_panel(2, (661, 1170, 78, 279), 20, 2, "d", so2_ticks, so2_labels, 368, False, True,
          SUB, f"SO₂ {UNIT}", 897, 57, 629, line_color="#8c8c8c")
chem_title([("SO", False), ("2", True)], 897, 35)
add_linked(2, so2_daily)

# NO2
add_panel(3, (55, 569, 400, 588), 120, 20, "d", month_ticks, month_labels, 365, True, True,
          SUB, f"NO₂ {UNIT}", 287, 380, 18)
chem_title([("NO", False), ("2", True)], 287, 357)
add_linked(3, no2_daily)

# O3
add_panel(4, (665, 1176, 400, 602), 120, 20, "d", month_ticks, month_labels, 365, True, False,
          SUB, f"O₃ {UNIT}", 897, 380, 629)
chem_title([("O", False), ("3", True)], 897, 358)
add_line(4, o3_line)
add_dots(4, o3_daily)

# CO
add_panel(5, (52, 566, 722, 923), 2.0, 0.2, ".1f", month_ticks, month_labels, 365, True, False,
          SUB, "CO [mg m⁻³]", 287, 701, 17)
chem_title([("CO", False)], 287, 677)
add_line(5, co_line)
add_dots(5, co_daily)

# C6H6
add_panel(6, (660, 1176, 722, 923), 10, 1, "d", month_ticks, month_labels, 365, True, False,
          "CENNU1 - (Nuoro, F-U)", f"C₆H₆ {UNIT}", 897, 700, 629)
chem_title([("C", False), ("6", True), ("H", False), ("6", True)], 897, 677)
add_line(6, c6h6_line)
add_dots(6, c6h6_daily)

fig.update_layout(
    width=W, height=H, margin=dict(l=0, r=0, t=0, b=0),
    paper_bgcolor="white", plot_bgcolor="white", showlegend=False,
    annotations=annotations,
)

fig.write_html("out.html")
